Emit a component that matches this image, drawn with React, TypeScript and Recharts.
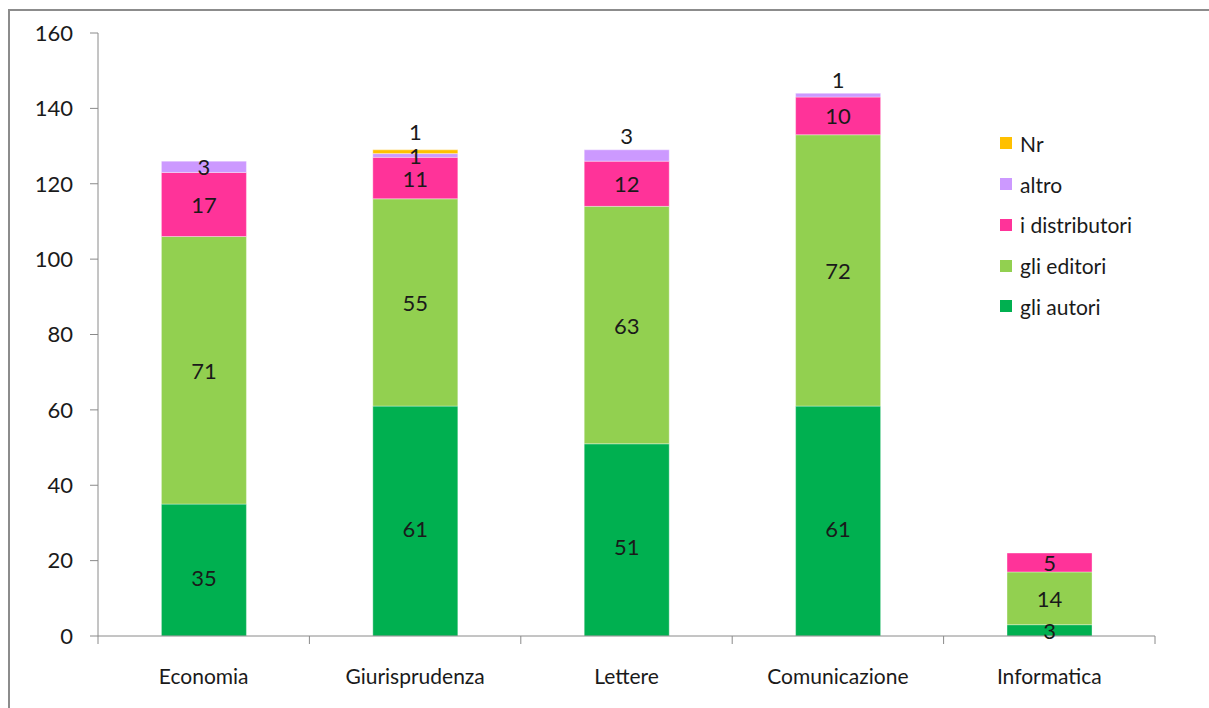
import React from 'react';
import {
  BarChart,
  Bar,
  XAxis,
  YAxis,
  LabelList,
} from 'recharts';

const categories = ['Economia', 'Giurisprudenza', 'Lettere', 'Comunicazione', 'Informatica'];
const autori = [35, 61, 51, 61, 3];
const editori = [71, 55, 63, 72, 14];
const distributori = [17, 11, 12, 10, 5];
const altro = [3, 1, 3, 1, 0];
const nr = [0, 1, 0, 0, 0];
const yTicks = [0, 20, 40, 60, 80, 100, 120, 140, 160];

// categories whose small "altro" label sits above the stack instead of inside it
const altroAbove = ['Lettere', 'Comunicazione'];

const FONT = 'Lato, "Open Sans", sans-serif';
const TEXT = '#1a1a1a';
const AXIS = '#8a8a8a';
const FRAME = '#8c8c8c';

const series = [
  { key: 'autori', name: 'gli autori', color: '#00B050' },
  { key: 'editori', name: 'gli editori', color: '#92D050' },
  { key: 'distributori', name: 'i distributori', color: '#FF3399' },
  { key: 'altro', name: 'altro', color: '#CC99FF' },
  { key: 'nr', name: 'Nr', color: '#FFC000' },
];

const data = categories.map((name, i) => ({
  name,
  autori: autori[i],
  editori: editori[i],
  distributori: distributori[i],
  altro: altro[i],
  nr: nr[i],
}));

// plot box inside the chart svg
const W = 1193;
const H = 692;
const PLOT_LEFT = 90;
const PLOT_RIGHT = 1147;
const PLOT_BOTTOM = 628;

function makeLabel(seriesKey: string) {
  return (props: any) => {
    const { x, y, width, height, value, index } = props;
    if (!value) return null;
    const cx = Number(x) + Number(width) / 2;
    let cy = Number(y) + Number(height) / 2;
    const cat = categories[index];
    if (seriesKey === 'autori' && Number(height) > 40) cy += 7;
    if (seriesKey === 'nr') cy = Number(y) - 18;
    if (seriesKey === 'altro' && altroAbove.includes(cat)) cy = Number(y) - 14;
    return (
      <text
        x={cx}
        y={cy}
        textAnchor="middle"
        dominantBaseline="central"
        fontSize={22}
        fontFamily={FONT}
        fill={TEXT}
      >
        {value}
      </text>
    );
  };
}

function LegendBox() {
  const items = [...series].reverse();
  return (
    <div style={{ fontFamily: FONT, fontSize: 21, color: TEXT }}>
      {items.map((s) => (
        <div key={s.key} style={{ display: 'flex', alignItems: 'center', height: 40.75 }}>
          <span style={{ width: 12, height: 12, background: s.color, marginRight: 8, flexShrink: 0 }} />
          <span style={{ whiteSpace: 'nowrap' }}>{s.name}</span>
        </div>
      ))}
    </div>
  );
}

export default function App() {
  return (
    <div
      style={{
        position: 'fixed',
        left: 0,
        top: 0,
        width: 1209,
        height: 708,
        overflow: 'hidden',
        background: '#fff',
      }}
    >
      {/* chart frame: only its top and left edges fall inside the page */}
      <div style={{ position: 'absolute', left: 8, top: 9, width: 1201, height: 2, background: FRAME }} />
      <div style={{ position: 'absolute', left: 8, top: 9, height: 699, width: 2, background: FRAME }} />
      <div style={{ position: 'absolute', left: 8, top: 8 }}>
        <BarChart
          width={W}
          height={H}
          data={data}
          style={{ outline: 'none' }}
          margin={{ top: 25, right: W - PLOT_RIGHT, bottom: 0, left: 0 }}
          barCategoryGap="30%"
        >
          <XAxis
            dataKey="name"
            height={H - PLOT_BOTTOM}
            stroke={AXIS}
            tickLine={false}
            tickMargin={27}
            tick={{ fontSize: 21, fontFamily: FONT, fill: TEXT }}
            interval={0}
          />
          <YAxis
            width={PLOT_LEFT}
            domain={[0, 160]}
            ticks={yTicks}
            stroke={AXIS}
            tickSize={8}
            tickMargin={17}
            tick={{ fontSize: 22, fontFamily: FONT, fill: TEXT }}
          />
          {series.map((s) => (
            <Bar
              key={s.key}
              dataKey={s.key}
              name={s.name}
              stackId="a"
              fill={s.color}
              stroke="rgba(255,255,255,0.35)"
              strokeWidth={1}
              isAnimationActive={false}
            >
              <LabelList dataKey={s.key} content={makeLabel(s.key)} />
            </Bar>
          ))}
        </BarChart>
        {/* separators between categories, hanging below the axis line */}
        <svg style={{ position: 'absolute', left: 0, top: 0 }} width={W} height={H}>
          {categories.concat(['']).map((_, i) => {
            const x = PLOT_LEFT + (i * (PLOT_RIGHT - PLOT_LEFT)) / categories.length;
            return <line key={i} x1={x} x2={x} y1={PLOT_BOTTOM} y2={PLOT_BOTTOM + 8} stroke={AXIS} />;
          })}
        </svg>
      </div>
      <div style={{ position: 'absolute', left: 1000, top: 123 }}>
        <LegendBox />
      </div>
    </div>
  );
}
